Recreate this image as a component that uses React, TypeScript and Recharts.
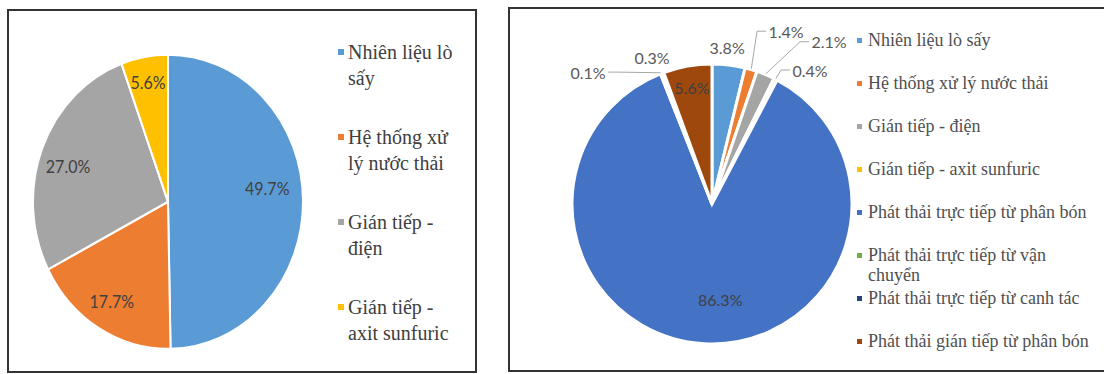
import { Cell, Legend, Pie, PieChart } from 'recharts';

const leftNames = ['Nhiên liệu lò sấy', 'Hệ thống xử lý nước thải', 'Gián tiếp - điện', 'Gián tiếp - axit sunfuric'];
const leftValues = [49.7, 17.7, 27.0, 5.6];
const leftColors = ['#5B9BD5', '#ED7D31', '#A5A5A5', '#FFC000'];

const rightNames = [
  'Nhiên liệu lò sấy',
  'Hệ thống xử lý nước thải',
  'Gián tiếp - điện',
  'Gián tiếp - axit sunfuric',
  'Phát thải trực tiếp từ phân bón',
  'Phát thải trực tiếp từ vận chuyển',
  'Phát thải trực tiếp từ canh tác',
  'Phát thải gián tiếp từ phân bón',
];
const rightValues = [3.8, 1.4, 2.1, 0.4, 86.3, 0.1, 0.3, 5.6];
const rightColors = ['#5B9BD5', '#ED7D31', '#A5A5A5', '#FFC000', '#4472C4', '#70AD47', '#264478', '#9E480E'];

// label placement: clockwise shift from the slice middle (deg) and distance from centre (px)
const LEFT_LABEL_PLACE = [
  { d: -6.4, r: 100 },
  { d: 0.9, r: 107 },
  { d: -3.4, r: 105 },
  { d: -0.3, r: 111 },
];
const RIGHT_LABEL_PLACE = [
  { d: -1.3, r: 157, line: false, inside: false },
  { d: 7.0, r: 188, line: true, inside: false },
  { d: 13.3, r: 200, line: true, inside: false },
  { d: 9.2, r: 166, line: true, inside: false },
  { d: -8, r: 96, line: false, inside: true },
  { d: -21.8, r: 181, line: true, inside: false },
  { d: -1.6, r: 158, line: false, inside: false },
  { d: 0.3, r: 118, line: false, inside: true },
];

const RAD = Math.PI / 180;
const LEFT_SCALE_Y = 1.09;
const labelFont = 'Lato, "Open Sans", sans-serif';
const serifFont = '"Liberation Serif", "DejaVu Serif", serif';

const leftData = leftNames.map((name, i) => ({ name, value: leftValues[i] }));
const rightData = rightNames.map((name, i) => ({ name, value: rightValues[i] }));

const polar = (cx: number, cy: number, r: number, angle: number) => ({
  x: cx + r * Math.cos(-angle * RAD),
  y: cy + r * Math.sin(-angle * RAD),
});

function renderLeftLabel(p: any) {
  const place = LEFT_LABEL_PLACE[p.index];
  const pt = polar(p.cx, p.cy, place.r, p.midAngle - place.d);
  return (
    <text
      x={pt.x}
      y={pt.y}
      textAnchor="middle"
      dominantBaseline="central"
      fill="#404040"
      fontSize={16}
      fontFamily={labelFont}
    >
      {leftValues[p.index].toFixed(1)}%
    </text>
  );
}

function renderRightLabel(p: any) {
  const place = RIGHT_LABEL_PLACE[p.index];
  const pt = polar(p.cx, p.cy, place.r, p.midAngle - place.d);
  const halfW = 18;
  let line = null;
  if (place.line) {
    const start = polar(p.cx, p.cy, p.outerRadius + 1, p.midAngle);
    const onRight = pt.x > start.x;
    const edgeX = onRight ? pt.x - halfW - 2 : pt.x + halfW + 2;
    const cornerX = onRight ? edgeX - 9 : edgeX + 9;
    line = (
      <polyline
        points={`${start.x},${start.y} ${cornerX},${pt.y} ${edgeX},${pt.y}`}
        fill="none"
        stroke="#A6A6A6"
        strokeWidth={1}
      />
    );
  }
  return (
    <g>
      {line}
      <text
        x={pt.x}
        y={pt.y}
        textAnchor="middle"
        dominantBaseline="central"
        fill={place.inside ? '#404040' : '#595959'}
        fontSize={16}
        fontFamily={labelFont}
      >
        {rightValues[p.index].toFixed(1)}%
      </text>
    </g>
  );
}

function LeftLegend() {
  return (
    <div style={{ fontFamily: serifFont, fontSize: 20, lineHeight: '26px', color: '#404040' }}>
      {leftNames.map((name, i) => (
        <div key={name} style={{ height: 85, display: 'flex', alignItems: 'flex-start' }}>
          <span
            style={{ width: 6, height: 6, background: leftColors[i], marginTop: 10, marginRight: 4, flexShrink: 0 }}
          />
          <span style={{ width: 112 }}>{name}</span>
        </div>
      ))}
    </div>
  );
}

function RightLegend() {
  return (
    <div style={{ fontFamily: serifFont, fontSize: 18, lineHeight: '20px', color: '#505050' }}>
      {rightNames.map((name, i) => (
        <div key={name} style={{ height: 43, display: 'flex', alignItems: 'flex-start' }}>
          <span
            style={{ width: 5, height: 5, background: rightColors[i], marginTop: 8, marginRight: 6, flexShrink: 0 }}
          />
          <span style={{ width: 228 }}>{name}</span>
        </div>
      ))}
    </div>
  );
}

export default function App() {
  return (
    <div style={{ position: 'absolute', left: 0, top: 0, width: 1104, height: 374, background: '#fff', overflow: 'hidden' }}>
      <div
        style={{
          position: 'absolute',
          left: 7,
          top: 9,
          width: 470,
          height: 364,
          border: '2px solid #333',
          boxSizing: 'border-box',
        }}
      >
        <div style={{ transform: `scale(1, ${LEFT_SCALE_Y})`, transformOrigin: '0 0' }}>
          <PieChart width={466} height={330}>
            <Pie
              data={leftData}
              dataKey="value"
              nameKey="name"
              cx={154}
              cy={170}
              outerRadius={135}
              startAngle={90}
              endAngle={-270}
              stroke="#fff"
              strokeWidth={2}
              label={renderLeftLabel}
              labelLine={false}
              isAnimationActive={false}
            >
              {leftData.map((d, i) => (
                <Cell key={d.name} fill={leftColors[i]} />
              ))}
            </Pie>
          </PieChart>
        </div>
        <div style={{ position: 'absolute', left: 329, top: 28, width: 130 }}>
          <LeftLegend />
        </div>
      </div>

      <div
        style={{
          position: 'absolute',
          left: 508,
          top: 7,
          width: 620,
          height: 365,
          border: '2px solid #333',
          boxSizing: 'border-box',
        }}
      >
        <PieChart width={596} height={361}>
          <Pie
            data={rightData}
            dataKey="value"
            nameKey="name"
            cx={197}
            cy={190}
            outerRadius={140}
            startAngle={90}
            endAngle={-270}
            stroke="#fff"
            strokeWidth={3}
            label={renderRightLabel}
            labelLine={false}
            isAnimationActive={false}
          >
            {rightData.map((d, i) => (
              <Cell key={d.name} fill={rightColors[i]} />
            ))}
          </Pie>
          <Legend content={() => <RightLegend />} wrapperStyle={{ left: 347, top: 21, width: 250 }} />
        </PieChart>
      </div>
    </div>
  );
}
